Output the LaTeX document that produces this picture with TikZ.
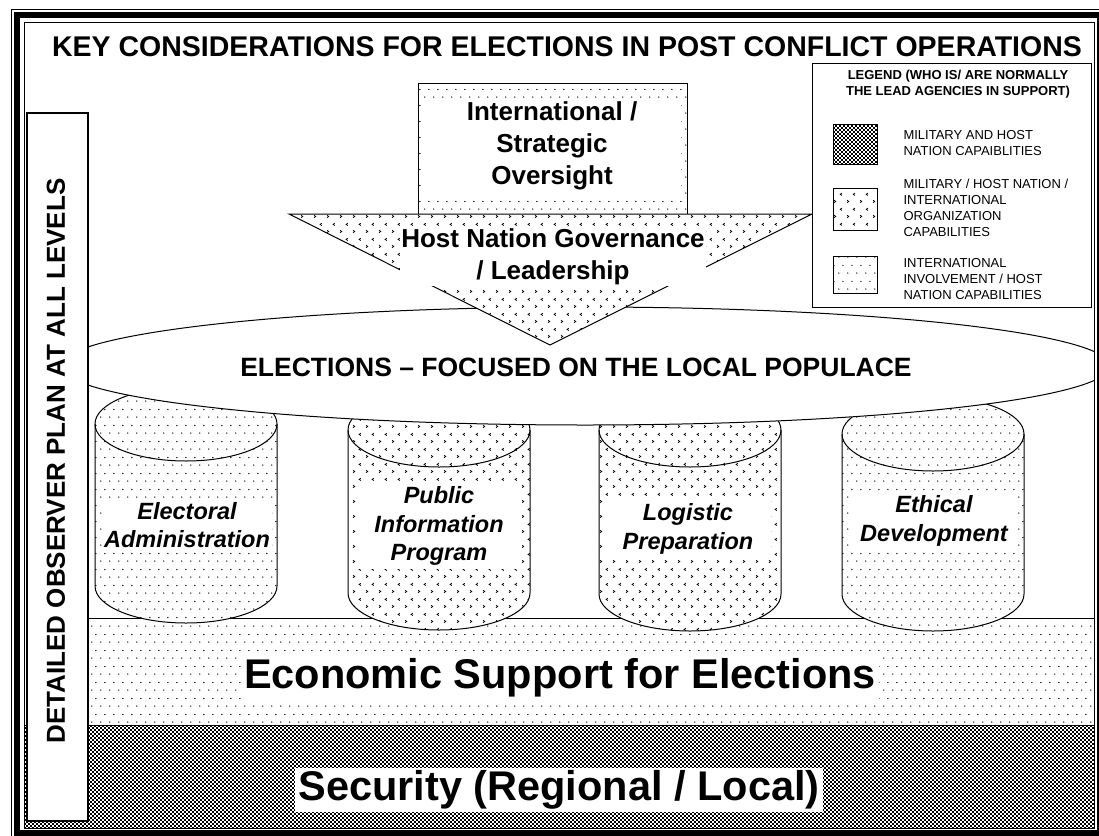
\documentclass[tikz,border=0pt]{standalone}
\usepackage{fontspec}
\setmainfont{Liberation Sans}
\usetikzlibrary{patterns}

% fill patterns of the three kinds of lead agencies
\pgfdeclarepatternformonly{hostdots}{\pgfqpoint{0pt}{0pt}}{\pgfqpoint{9pt}{16pt}}{\pgfqpoint{9pt}{16pt}}{
  \pgfpathcircle{\pgfqpoint{2pt}{2pt}}{0.75pt}
  \pgfpathcircle{\pgfqpoint{6.5pt}{10pt}}{0.75pt}
  \pgfusepath{fill}
}
\pgfdeclarepatternformonly{mixchev}{\pgfqpoint{0pt}{0pt}}{\pgfqpoint{13pt}{15pt}}{\pgfqpoint{13pt}{15pt}}{
  \pgfsetlinewidth{0.8pt}
  \pgfpathmoveto{\pgfqpoint{2.2pt}{2.5pt}}\pgfpathlineto{\pgfqpoint{4pt}{3.75pt}}\pgfpathlineto{\pgfqpoint{2.2pt}{5pt}}
  \pgfpathmoveto{\pgfqpoint{10.5pt}{10pt}}\pgfpathlineto{\pgfqpoint{8.7pt}{11.25pt}}\pgfpathlineto{\pgfqpoint{10.5pt}{12.5pt}}
  \pgfusepath{stroke}
}
\pgfdeclarepatternformonly{milsquares}{\pgfqpoint{0pt}{0pt}}{\pgfqpoint{4.4pt}{4.4pt}}{\pgfqpoint{4.4pt}{4.4pt}}{
  \pgfpathrectangle{\pgfqpoint{0.1pt}{0.1pt}}{\pgfqpoint{2pt}{2pt}}
  \pgfpathrectangle{\pgfqpoint{2.3pt}{2.3pt}}{\pgfqpoint{2pt}{2pt}}
  \pgfusepath{fill}
}

\tikzset{
  patbox/.style={fill=white, postaction={pattern=#1}},
  blanklabel/.style={fill=white, align=center, inner sep=2pt},
  pillarlabel/.style={blanklabel, minimum width=166pt, inner ysep=4pt,
    font=\fontsize{23.5}{28.5}\selectfont\bfseries\itshape},
  keytext/.style={anchor=west, align=left, inner sep=0pt,
    font=\fontsize{13}{16}\selectfont}
}

\begin{document}
\begin{tikzpicture}[x=1pt,y=-1pt,line width=1pt]
\useasboundingbox (0,0) rectangle (1099,835);
\fill[white] (0,0) rectangle (1099,835);

\begin{scope}
\clip (24,22.5) rectangle (1094,828);
% foundation bands
\filldraw[patbox=hostdots] (88,618) rectangle (1094,725);
\filldraw[patbox=milsquares] (24,725) rectangle (1094,828);
\node[blanklabel, inner sep=3pt, font=\fontsize{41.5}{48}\selectfont\bfseries] (economic) at (560,678) {Economic Support for Elections};
\node[blanklabel, inner sep=3pt, font=\fontsize{41.5}{48}\selectfont\bfseries] (security) at (559,790) {Security (Regional / Local)};

% pillars
\foreach \cx/\yt/\yb/\pat in {186/424/586/hostdots, 439/430/593/mixchev, 690/430/594/mixchev, 933/434/594/hostdots}{
  \filldraw[patbox=\pat] (\cx-91,\yt) -- (\cx-91,\yb) arc[start angle=180, end angle=0, x radius=91, y radius=37]
    -- (\cx+91,\yt) arc[start angle=0, end angle=-180, x radius=91, y radius=37] -- cycle;
  \draw (\cx-91,\yt) arc[start angle=180, end angle=0, x radius=91, y radius=37];
}
\node[pillarlabel] (electoral) at (187,525) {Electoral\\Administration};
\node[pillarlabel] (publicinfo) at (439,526) {Public\\Information\\Program};
\node[pillarlabel] (logistic) at (688,529) {Logistic\\Preparation};
\node[pillarlabel] (ethical) at (934,521) {Ethical\\Development};

% elections
\filldraw[fill=white] (585,366) ellipse [x radius=525, y radius=59];
\node[font=\fontsize{26.5}{30}\selectfont\bfseries] (elections) at (576,367) {ELECTIONS -- FOCUSED ON THE LOCAL POPULACE};

% oversight and governance
\filldraw[patbox=hostdots] (418,83) rectangle (687,222);
\node[blanklabel, minimum width=258pt, inner ysep=4pt, font=\fontsize{26}{32}\selectfont\bfseries] (oversight) at (552,146) {International /\\Strategic\\Oversight};
\filldraw[patbox=mixchev] (289,214) -- (812,214) -- (550,345) -- cycle;
\node[blanklabel, inner sep=1pt, font=\fontsize{26}{32}\selectfont\bfseries] (governance) at (553,257) {Host Nation Governance\\/ Leadership};

% legend
\filldraw[fill=white] (812,63) rectangle (1091,307);
\node[align=center, inner sep=0pt, font=\fontsize{13}{16}\selectfont\bfseries] (keytitle) at (958,84) {LEGEND (WHO IS/ ARE NORMALLY\\THE LEAD AGENCIES IN SUPPORT)};
\filldraw[patbox=milsquares] (833,124) rectangle (877,164);
\filldraw[patbox=mixchev] (833,188) rectangle (877,230);
\filldraw[patbox=hostdots] (833,256) rectangle (877,293);
\node[keytext] (keymil) at (903,143) {MILITARY AND HOST\\NATION CAPAIBLITIES};
\node[keytext] (keymix) at (903,208) {MILITARY / HOST NATION /\\INTERNATIONAL\\ORGANIZATION\\CAPABILITIES};
\node[keytext] (keyintl) at (903,279) {INTERNATIONAL\\INVOLVEMENT / HOST\\NATION CAPABILITIES};

% observer plan
\filldraw[fill=white, line width=1.2pt] (27,113) rectangle (88,821);
\node[rotate=90, font=\fontsize{26}{30}\selectfont\bfseries] (observer) at (56,461) {DETAILED OBSERVER PLAN AT ALL LEVELS};
\end{scope}

% page border and title
\draw (11,9.5) rectangle (1107,840);
\draw[line width=6pt] (17,15) rectangle (1100,833);
\draw (24,22.5) rectangle (1094,828);
\node[font=\fontsize{28.5}{32}\selectfont\bfseries] (title) at (567,47) {KEY CONSIDERATIONS FOR ELECTIONS IN POST CONFLICT OPERATIONS};
\end{tikzpicture}
\end{document}
